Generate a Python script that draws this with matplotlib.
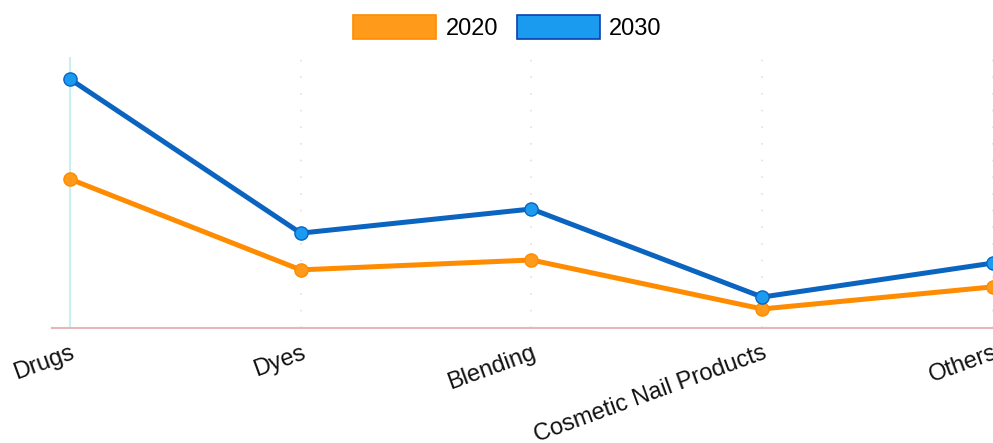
import matplotlib
matplotlib.use("Agg")
import matplotlib.pyplot as plt
from matplotlib.patches import Patch

categories = ["Drugs", "Dyes", "Blending", "Cosmetic Nail Products", "Others"]
values_2020 = [4.38, 1.71, 2.0, 0.56, 1.21]
values_2030 = [7.32, 2.79, 3.5, 0.91, 1.91]
series_names = ["2020", "2030"]

plt.rcParams['font.family'] = ['Liberation Sans', 'DejaVu Sans']

fig = plt.figure(figsize=(9.93, 4.43), dpi=100)
ax = fig.add_axes([52/993, 115/443, 941/993, 271/443])

x = list(range(len(categories)))

# gridlines
for i in x:
    if i == 0:
        ax.axvline(i, color="#c8f0f2", lw=1.5, zorder=0)
    else:
        ax.axvline(i, color="#f3dada", lw=1.2, ls=(0, (1, 9)), zorder=0)

ax.plot(x, values_2020, color="#ff8c00", lw=3.6, marker="o", ms=9.5,
        mfc="#ff9a1a", mec="#ff8c00", mew=1, clip_on=False, zorder=3)
ax.plot(x, values_2030, color="#0a64c0", lw=3.6, marker="o", ms=9.5,
        mfc="#1a9bf0", mec="#0a64c0", mew=1, clip_on=False, zorder=4)

ax.set_xlim(-0.078, 3.996)
ax.set_ylim(0, 7.97)
ax.set_yticks([])
ax.set_xticks(x)
ax.set_xticklabels(categories, rotation=20, ha="right", va="top",
                   rotation_mode="anchor", fontsize=17, color="#111111")
ax.tick_params(axis="x", length=0, pad=10)
for s in ["top", "right", "left"]:
    ax.spines[s].set_visible(False)
ax.spines["bottom"].set_color("#e4b8b8")
ax.spines["bottom"].set_linewidth(1.5)

handles = [Patch(facecolor="#ff9a1a", edgecolor="#ff8c00", lw=1.2),
           Patch(facecolor="#1a9bf0", edgecolor="#0a3fb0", lw=1.2)]
fig.legend(handles, series_names, loc="upper center", bbox_to_anchor=(0.511, 1.003),
           ncol=2, frameon=False, fontsize=17, handlelength=3.5, handleheight=1.15,
           handletextpad=0.4, columnspacing=0.8, borderaxespad=0.3)

fig.savefig("out.png", dpi=100)
